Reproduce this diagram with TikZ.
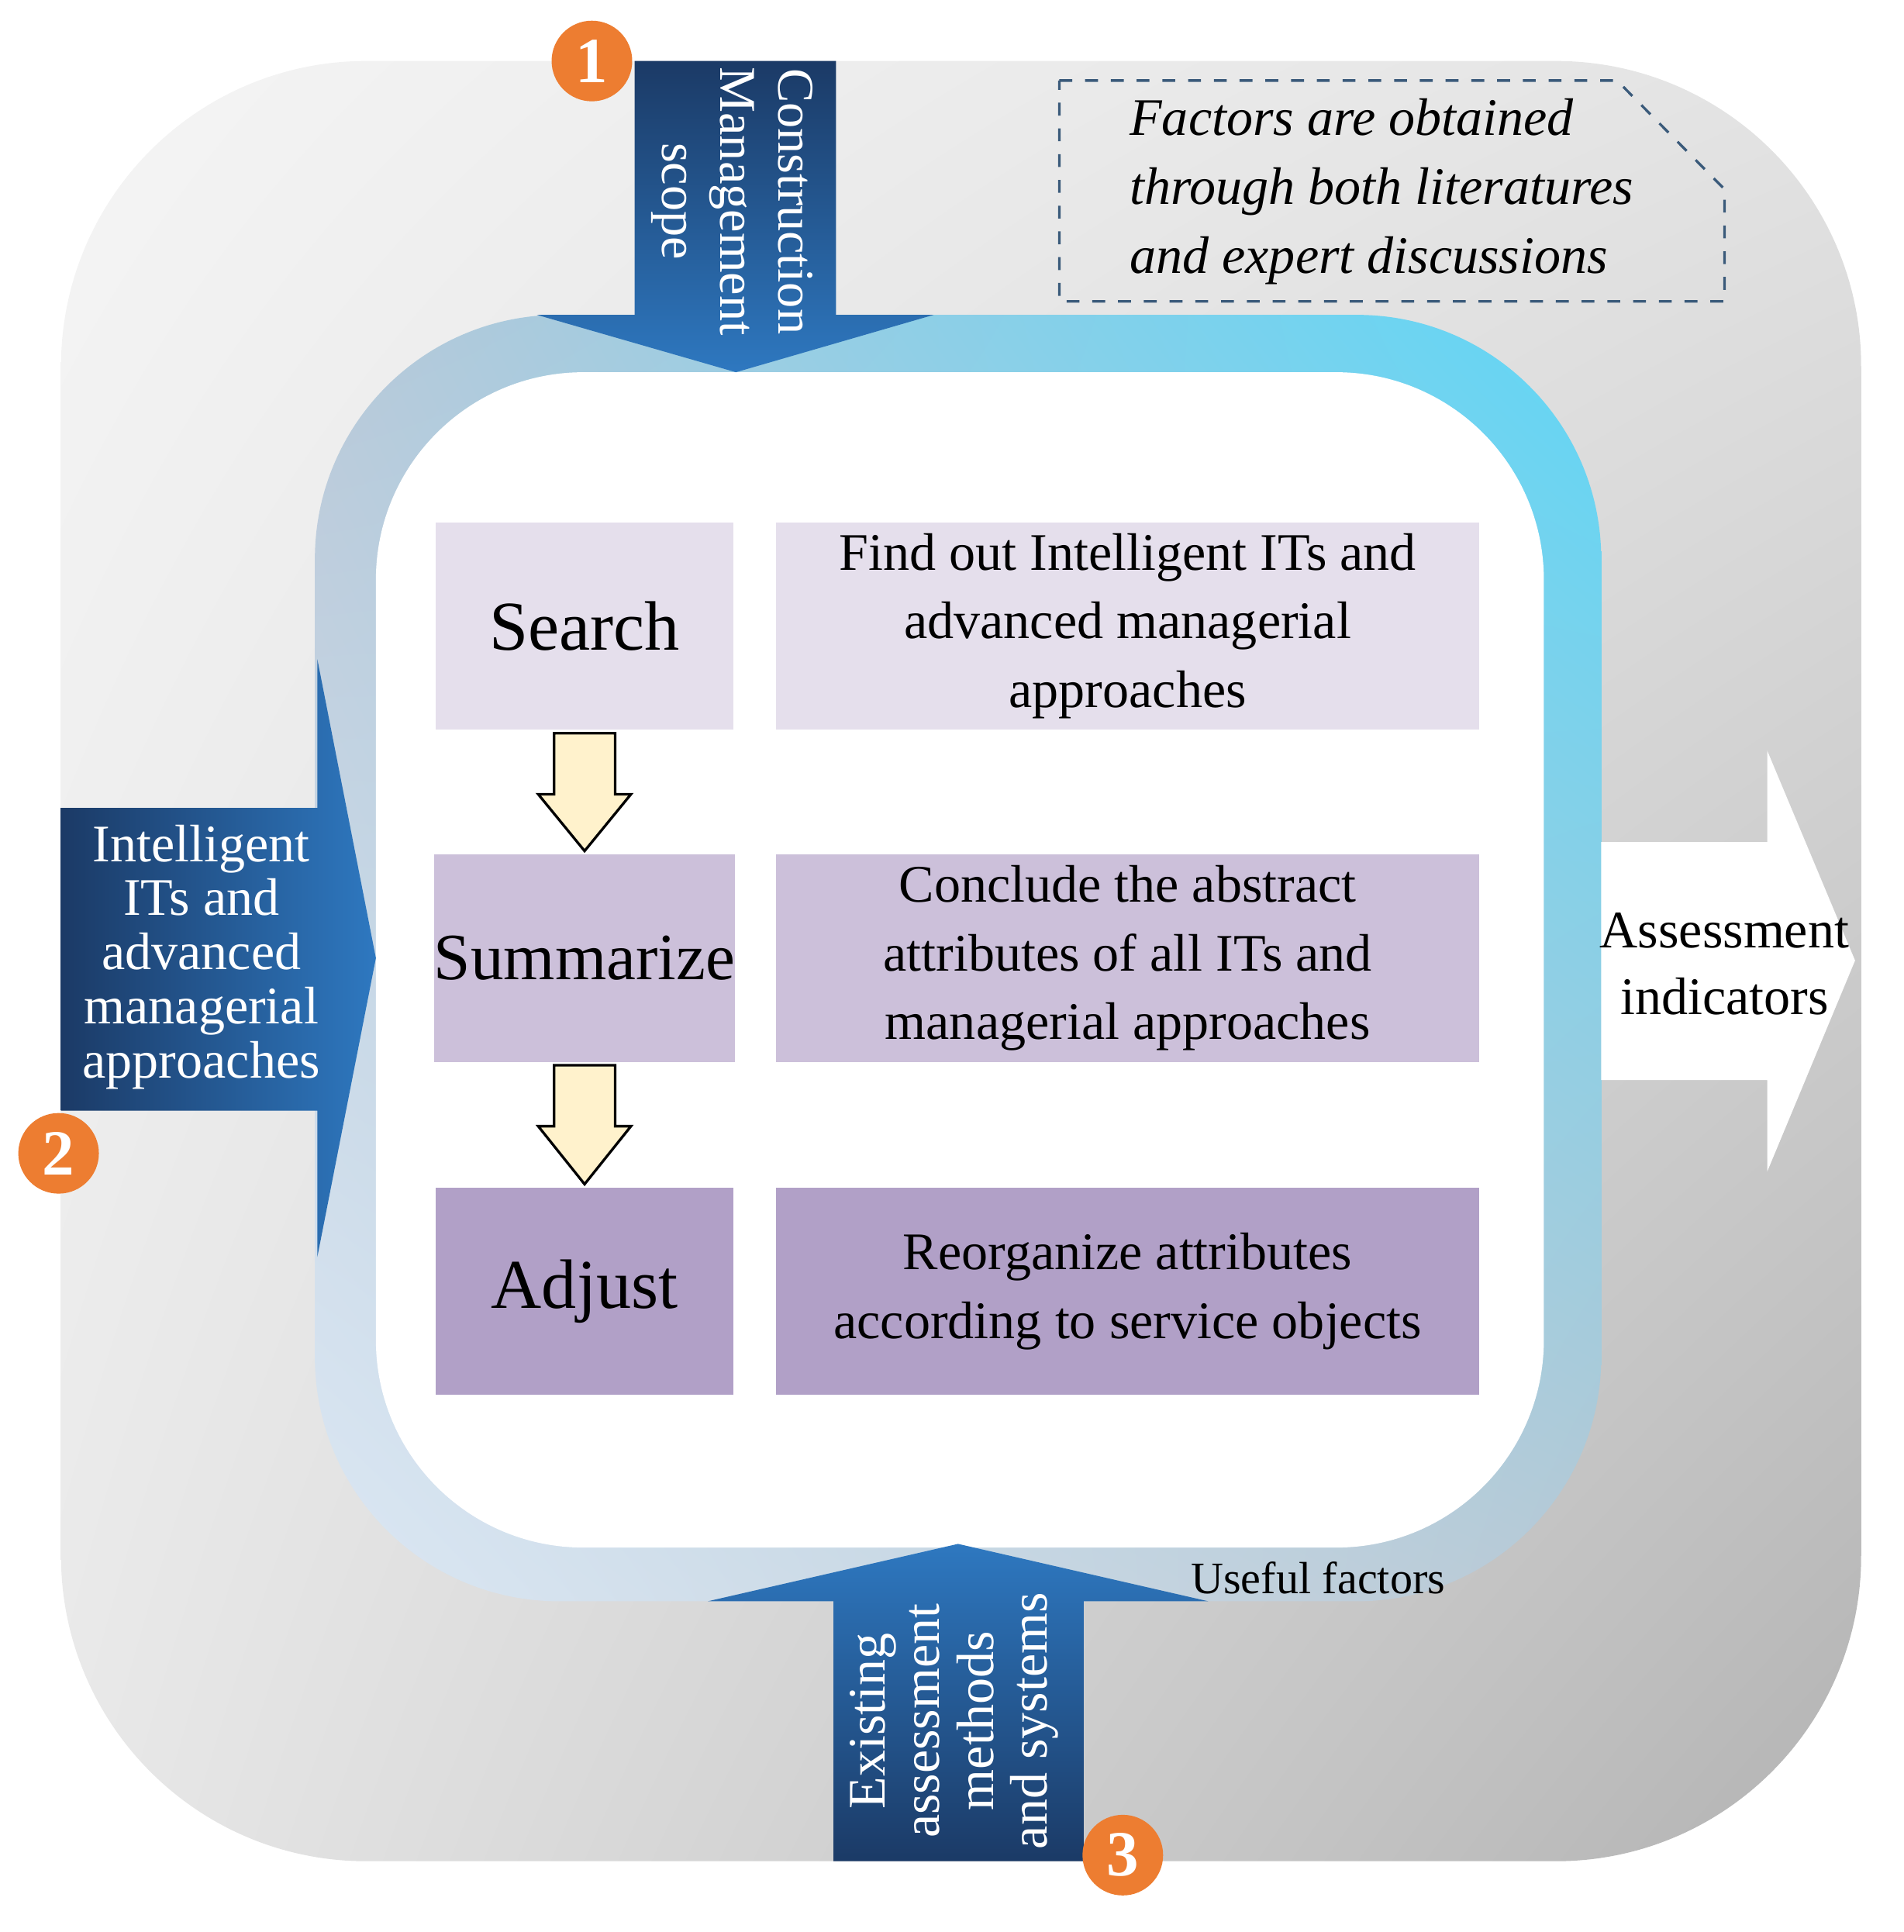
\documentclass[tikz,border=0pt]{standalone}
\usepackage{fontspec}
\setmainfont{Liberation Serif}
\usetikzlibrary{calc,shadings}
\definecolor{dblue}{HTML}{1B3A66}
\definecolor{mblue}{HTML}{2E78C0}
\definecolor{org}{HTML}{ED7D31}
\definecolor{pa}{HTML}{E5DFEC}
\definecolor{pb}{HTML}{CCC0DA}
\definecolor{pc}{HTML}{B1A0C7}
\definecolor{yel}{HTML}{FFF2CC}
\definecolor{ringA}{HTML}{B8C8D8}
\definecolor{ringB}{HTML}{5FD6F6}
\definecolor{ringC}{HTML}{DCE8F4}
\definecolor{ringD}{HTML}{B8C8D4}
\definecolor{notec}{HTML}{3A5A7A}
\tikzset{
 box/.style={draw=none,minimum height=1.7cm,align=center,font=\fontsize{12.3}{16}\selectfont,inner sep=0pt},
 lbox/.style={box,minimum width=2.44cm,font=\fontsize{16.3}{20}\selectfont},
 rbox/.style={box,minimum width=5.76cm},
 num/.style={circle,fill=org,text=white,minimum size=0.66cm,inner sep=0pt,font=\bfseries\fontsize{15}{15}\selectfont},
 wt/.style={text=white,align=center,font=\fontsize{12.3}{12.6}\selectfont},
 yarr/.style={fill=yel,draw=black,line width=0.6pt,line join=miter}
}
\begin{document}
\begin{tikzpicture}[x=0.01cm,y=-0.01cm]
\useasboundingbox (0,0) rectangle (1560,1583);
% outer gray
\shade[upper left=gray!8,upper right=gray!22,lower left=gray!18,lower right=gray!60,rounded corners=2.5cm] (50,50) rectangle (1525,1525);
% ring
\shade[lower left=ringC,upper left=ringA,upper right=ringB,lower right=ringD,rounded corners=2cm] (258,258) rectangle (1312,1312);
\fill[white,rounded corners=1.7cm] (308,305) rectangle (1265,1268);
% top arrow
\shade[top color=dblue,bottom color=mblue] (520,50) -- (685,50) -- (685,258) -- (765,258) -- (603,305) -- (440,258) -- (520,258) -- cycle;
\node[wt,rotate=-90,font=\fontsize{12}{13.5}\selectfont] (top) at (600,165) {Construction\\Management\\scope};
% left arrow
\shade[left color=dblue,right color=mblue] (50,662) -- (260,662) -- (260,540) -- (308,785) -- (260,1030) -- (260,910) -- (50,910) -- cycle;
\node[wt] (left) at (165,784) {Intelligent\\ITs and\\advanced\\managerial\\approaches};
% bottom arrow
\shade[bottom color=dblue,top color=mblue] (683,1525) -- (888,1525) -- (888,1312) -- (990,1312) -- (785,1265) -- (580,1312) -- (683,1312) -- cycle;
\node[wt,rotate=90] (bot) at (782,1410) {Existing\\assessment\\methods\\and systems};
% right white arrow
\fill[white] (1312,690) -- (1448,690) -- (1448,615) -- (1520,787) -- (1448,960) -- (1448,885) -- (1312,885) -- cycle;
\node[align=center,font=\fontsize{12.3}{15.5}\selectfont] (out) at (1413,790) {Assessment\\indicators};
\node[font=\fontsize{10.5}{13}\selectfont] (useful) at (1080,1293) {Useful factors};
% numbers
\node[num] (n1) at (485,50) {1};
\node[num] (n2) at (48,945) {2};
\node[num] (n3) at (920,1520) {3};
% note
\draw[dashed,draw=notec,line width=0.6pt] (868,66) -- (1325,66) -- (1413,155) -- (1413,247) -- (868,247) -- cycle;
\node[align=left,font=\itshape\fontsize{12.3}{16}\selectfont] (note) at (1132,157) {Factors are obtained\\through both literatures\\and expert discussions};
% boxes
\node[lbox,fill=pa] (s) at (479,513) {Search};
\node[rbox,fill=pa] (sr) at (924,513) {Find out Intelligent ITs and\\advanced managerial\\approaches};
\node[lbox,fill=pb,font=\fontsize{15.4}{20}\selectfont] (m) at (479,785) {Summarize};
\node[rbox,fill=pb] (mr) at (924,785) {Conclude the abstract\\attributes of all ITs and\\managerial approaches};
\node[lbox,fill=pc] (a) at (479,1058) {Adjust};
\node[rbox,fill=pc] (ar) at (924,1058) {Reorganize attributes\\according to service objects};
% yellow arrows
\draw[yarr] ($(s.south)+(-25,2)$) -- ($(s.south)+(25,2)$) -- ($(s.south)+(25,52)$) -- ($(s.south)+(38,52)$) -- ($(m.north)+(0,-2)$) -- ($(s.south)+(-38,52)$) -- ($(s.south)+(-25,52)$) -- cycle;
\draw[yarr] ($(m.south)+(-25,2)$) -- ($(m.south)+(25,2)$) -- ($(m.south)+(25,52)$) -- ($(m.south)+(38,52)$) -- ($(a.north)+(0,-2)$) -- ($(m.south)+(-38,52)$) -- ($(m.south)+(-25,52)$) -- cycle;
\end{tikzpicture}
\end{document}
